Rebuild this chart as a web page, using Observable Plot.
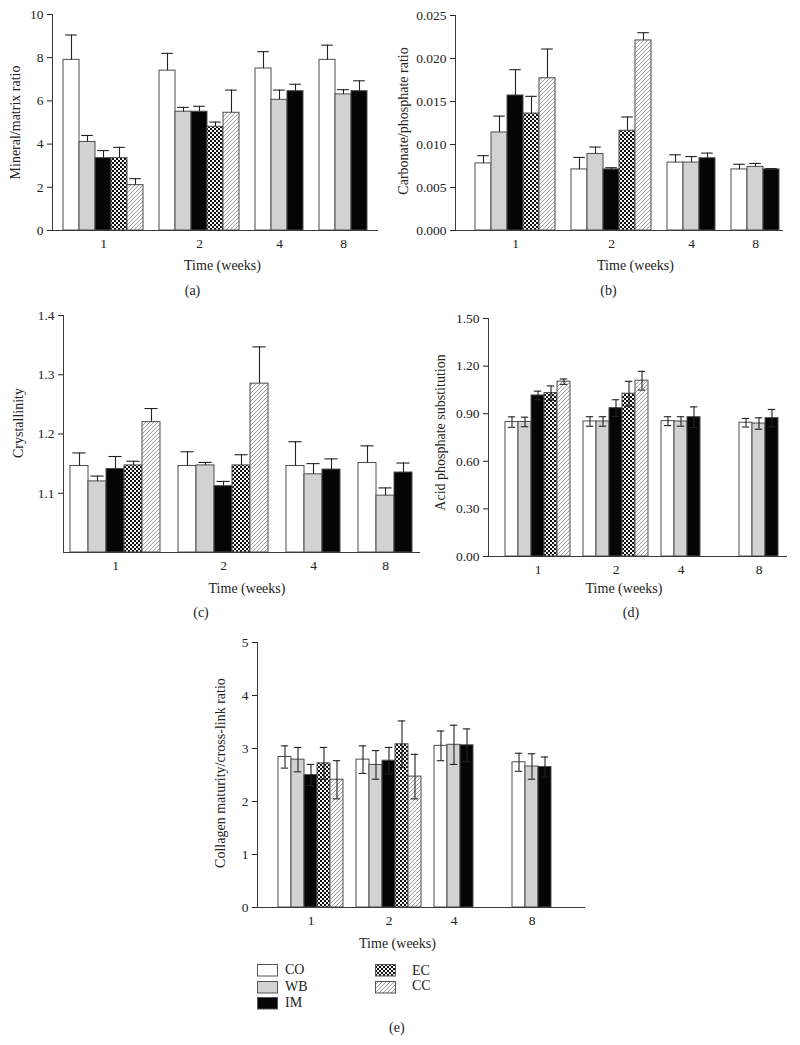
<!DOCTYPE html>
<html><head><meta charset="utf-8">
<script src="https://cdn.jsdelivr.net/npm/d3@7"></script>
<script src="https://cdn.jsdelivr.net/npm/@observablehq/plot@0.6"></script>
<style>
body{margin:0;background:#fff;}
#root{position:relative;width:800px;height:1045px;font-family:"Liberation Serif",serif;color:#222;overflow:hidden;}
.panel{position:absolute;}
.lg{position:absolute;font-size:14px;line-height:14px;}
.sw{position:absolute;}
</style></head><body>
<svg width="0" height="0" style="position:absolute">
<defs>
<pattern id="pEC" patternUnits="userSpaceOnUse" width="4" height="4">
<rect width="4" height="4" fill="#111"/>
<rect x="0" y="0" width="2" height="2" fill="#f4f4f4"/>
<rect x="2" y="2" width="2" height="2" fill="#f4f4f4"/>
</pattern>
<pattern id="pCC" patternUnits="userSpaceOnUse" width="4" height="4">
<rect width="4" height="4" fill="#fafafa"/>
<path d="M-1,1 L1,-1 M0,4 L4,0 M3,5 L5,3" stroke="#8a8a8a" stroke-width="0.8"/>
</pattern>
</defs>
</svg>
<div id="root"></div>
<script>
// ---- data ----
const series = ["CO", "WB", "IM", "EC", "CC"];
const weeks = ["1", "2", "4", "8"];
const fills = ["#ffffff", "#d2d2d2", "#050505", "url(#pEC)", "url(#pCC)"];

const mineralMean = [[7.9, 4.1, 3.35, 3.35, 2.1], [7.4, 5.5, 5.5, 4.8, 5.45], [7.5, 6.05, 6.45], [7.9, 6.3, 6.45]];
const mineralSD   = [[1.15, 0.3, 0.35, 0.5, 0.3], [0.8, 0.2, 0.25, 0.22, 1.05], [0.78, 0.45, 0.32], [0.68, 0.22, 0.48]];
const mineralTicks = [0, 2, 4, 6, 8, 10];

const carbMean = [[0.0078, 0.0114, 0.0157, 0.0136, 0.0177], [0.0071, 0.0089, 0.0071, 0.0116, 0.0221], [0.0079, 0.0079, 0.0084], [0.0071, 0.0074, 0.0071]];
const carbSD   = [[0.0009, 0.0019, 0.0030, 0.0020, 0.0034], [0.0014, 0.0008, 0.0002, 0.0016, 0.0009], [0.0009, 0.0007, 0.0006], [0.0006, 0.0004, 0.0001]];
const carbTicks = [0, 0.005, 0.010, 0.015, 0.020, 0.025];

const crystMean = [[1.146, 1.120, 1.141, 1.147, 1.220], [1.146, 1.147, 1.112, 1.147, 1.285], [1.146, 1.132, 1.140], [1.151, 1.096, 1.135]];
const crystSD   = [[0.022, 0.009, 0.021, 0.007, 0.023], [0.024, 0.005, 0.008, 0.018, 0.062], [0.041, 0.018, 0.018], [0.029, 0.013, 0.016]];
const crystTicks = [1.1, 1.2, 1.3, 1.4];

const acidMean = [[0.847, 0.848, 1.015, 1.030, 1.102], [0.851, 0.851, 0.935, 1.026, 1.108], [0.853, 0.851, 0.878], [0.843, 0.838, 0.872]];
const acidSD   = [[0.033, 0.030, 0.027, 0.045, 0.017], [0.030, 0.030, 0.053, 0.078, 0.059], [0.028, 0.030, 0.065], [0.027, 0.036, 0.055]];
const acidTicks = [0, 0.3, 0.6, 0.9, 1.2, 1.5];

const collMean = [[2.84, 2.79, 2.50, 2.72, 2.41], [2.79, 2.69, 2.77, 3.08, 2.47], [3.05, 3.07, 3.06], [2.74, 2.66, 2.65]];
const collSD   = [[0.21, 0.23, 0.20, 0.30, 0.36], [0.26, 0.27, 0.25, 0.44, 0.42], [0.28, 0.37, 0.31], [0.17, 0.24, 0.19]];
const collTicks = [0, 1, 2, 3, 4, 5];

// ---- layout ----
function slotDomain(counts) {
  const d = [];
  weeks.forEach((w, wi) => {
    if (wi > 0) d.push("gap" + wi);
    for (let i = 0; i < counts[wi]; i++) d.push(w + "-" + i);
  });
  return d;
}

const panels = [
  {left: 0, top: 0, width: 400, height: 300, mt: 14, mb: 70, ml: 52, mr: 22, xr: [59, 371], counts: [5,5,3,3],
   means: mineralMean, sds: mineralSD, yDomain: [0, 10], ticks: mineralTicks, fmt: d3.format("d"),
   ylabel: "Mineral/matrix ratio", ldx: -37, ldy: 0, tdx: 7, tdy: 35, tag: "(a)", gdx: -23, gdy: 60, sym: false, cap: 2.2},
  {left: 400, top: 0, width: 400, height: 300, mt: 15, mb: 70, ml: 55, mr: 17, xr: [72, 382], counts: [5,5,3,3],
   means: carbMean, sds: carbSD, yDomain: [0, 0.025], ticks: carbTicks, fmt: d3.format(".3f"),
   ylabel: "Carbonate/phosphate ratio", ldx: -52, ldy: -2, tdx: 16, tdy: 35, tag: "(b)", gdx: -11, gdy: 60, sym: false, cap: 2.2},
  {left: 0, top: 300, width: 440, height: 320, mt: 15, mb: 68, ml: 63, mr: 20, xr: [68, 414], counts: [5,5,3,3],
   means: crystMean, sds: crystSD, yDomain: [1.0, 1.4], ticks: crystTicks, fmt: d3.format(".1f"),
   ylabel: "Crystallinity", ldx: -45, ldy: -11, tdx: 5, tdy: 36, tag: "(c)", gdx: -41, gdy: 60, sym: false, cap: 2.4},
  {left: 400, top: 300, width: 400, height: 320, mt: 18, mb: 64, ml: 88, mr: 13, xr: [100, 383], counts: [5,5,5,3],
   means: acidMean, sds: acidSD, yDomain: [0, 1.5], ticks: acidTicks, fmt: d3.format(".2f"),
   ylabel: "Acid phosphate substitution", ldx: -48, ldy: -5, tdx: -14, tdy: 32, tag: "(d)", gdx: -7, gdy: 56, sym: true, cap: 2.8},
  {left: 0, top: 630, width: 800, height: 330, mt: 12, mb: 53, ml: 257, mr: 215, xr: [270, 558], counts: [5,5,5,3],
   means: collMean, sds: collSD, yDomain: [0, 5], ticks: collTicks, fmt: d3.format("d"),
   ylabel: "Collagen maturity/cross-link ratio", ldx: -37, ldy: -2, tdx: -24, tdy: 36, tag: null, sym: true, cap: 2.8}
];

const root = document.getElementById("root");
const ink = "#222";
const lineInk = "#3a3a3a";

panels.forEach(p => {
  const data = [];
  p.means.forEach((arr, wi) => arr.forEach((m, i) => data.push({
    slot: weeks[wi] + "-" + i, series: series[i], mean: m, sd: p.sds[wi][i]
  })));
  const centers = weeks.map((w, wi) => w + "-" + Math.floor((p.means[wi].length - 1) / 2));
  const y0 = p.yDomain[0];
  const marks = [
    Plot.barY(data, {x: "slot", y1: () => y0, y2: "mean", fill: "series", stroke: "#4d4d4d", strokeWidth: 1}),
    Plot.ruleX(data, {x: "slot", y1: d => p.sym ? d.mean - d.sd : d.mean, y2: d => d.mean + d.sd, stroke: ink, strokeWidth: 1.1}),
    Plot.tickY(data, {x: "slot", y: d => d.mean + d.sd, insetLeft: p.cap, insetRight: p.cap, stroke: ink, strokeWidth: 1.1})
  ];
  if (p.sym) marks.push(Plot.tickY(data, {x: "slot", y: d => d.mean - d.sd, insetLeft: p.cap, insetRight: p.cap, stroke: ink, strokeWidth: 1.1}));
  marks.push(
    Plot.ruleY([y0], {stroke: lineInk, strokeWidth: 1}),
    Plot.frame({anchor: "left", stroke: lineInk, strokeWidth: 1}),
    Plot.axisY({ticks: p.ticks, tickFormat: p.fmt, tickSize: 5, tickPadding: 4, label: null, fontSize: 13.5, color: ink}),
    Plot.axisX({ticks: centers, tickFormat: d => d.split("-")[0], tickSize: 0, tickPadding: 8, label: null, fontSize: 13.5, color: ink}),
    Plot.text([p.ylabel], {frameAnchor: "left", textAnchor: "middle", lineAnchor: "middle", rotate: -90, dx: p.ldx, dy: p.ldy, fontSize: 14, fill: ink}),
    Plot.text(["Time (weeks)"], {frameAnchor: "bottom", textAnchor: "middle", lineAnchor: "middle", dx: p.tdx, dy: p.tdy, fontSize: 14, fill: ink})
  );
  if (p.tag) marks.push(Plot.text([p.tag], {frameAnchor: "bottom", textAnchor: "middle", lineAnchor: "middle", dx: p.gdx, dy: p.gdy, fontSize: 14, fill: ink}));
  const chart = Plot.plot({
    width: p.width, height: p.height,
    marginTop: p.mt, marginBottom: p.mb, marginLeft: p.ml, marginRight: p.mr,
    x: {type: "band", domain: slotDomain(p.counts), range: p.xr, padding: 0},
    y: {domain: p.yDomain},
    color: {domain: series, range: fills},
    style: {fontFamily: "'Liberation Serif', serif", fontSize: "13.5px", background: "transparent", overflow: "visible"},
    marks
  });
  chart.classList.add("panel");
  chart.style.left = p.left + "px";
  chart.style.top = p.top + "px";
  root.appendChild(chart);
});

// ---- legend ----
const legendPos = [
  {x: 257, y: 964, lx: 285, ly: 963},
  {x: 257, y: 981, lx: 285, ly: 980},
  {x: 257, y: 997, lx: 285, ly: 996},
  {x: 375, y: 964, lx: 412, ly: 964},
  {x: 375, y: 981, lx: 412, ly: 979}
];
series.forEach((s, i) => {
  const pos = legendPos[i];
  const sw = document.createElementNS("http://www.w3.org/2000/svg", "svg");
  sw.setAttribute("width", 21); sw.setAttribute("height", 13);
  sw.setAttribute("class", "sw");
  sw.style.left = pos.x + "px"; sw.style.top = pos.y + "px";
  const r = document.createElementNS("http://www.w3.org/2000/svg", "rect");
  r.setAttribute("x", 0.5); r.setAttribute("y", 0.5); r.setAttribute("width", 20); r.setAttribute("height", 11.5);
  r.setAttribute("fill", fills[i]); r.setAttribute("stroke", "#555"); r.setAttribute("stroke-width", 1);
  sw.appendChild(r);
  root.appendChild(sw);
  const t = document.createElement("div");
  t.className = "lg"; t.textContent = s;
  t.style.left = pos.lx + "px"; t.style.top = pos.ly + "px";
  root.appendChild(t);
});
const tagE = document.createElement("div");
tagE.className = "lg"; tagE.textContent = "(e)";
tagE.style.left = "389px"; tagE.style.top = "1021px";
root.appendChild(tagE);
</script>
</body></html>
